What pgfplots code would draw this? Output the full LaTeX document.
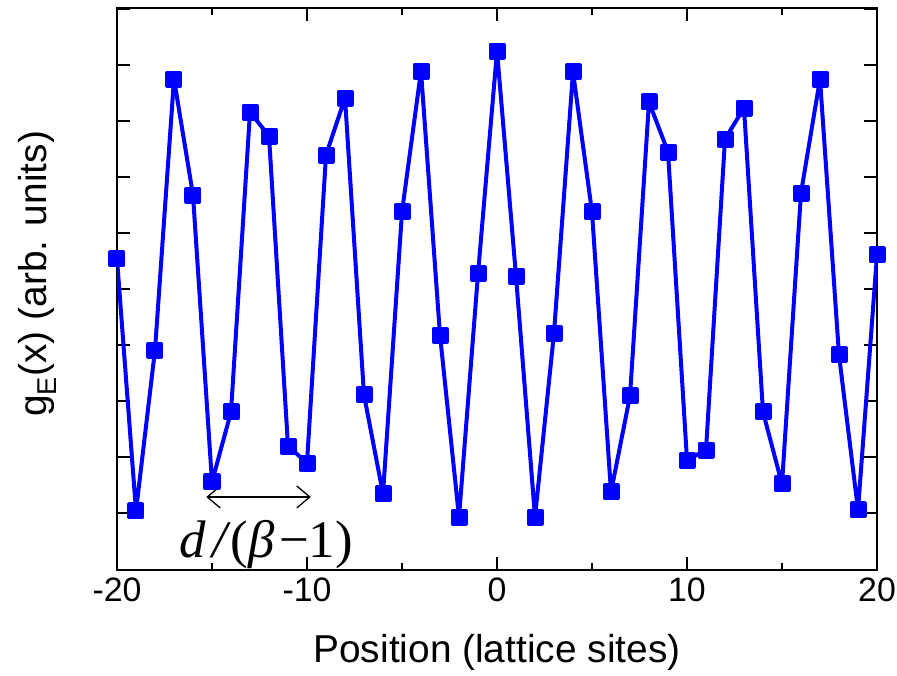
\documentclass[border=0pt]{standalone}
\usepackage{pgfplots}
\pgfplotsset{compat=1.18}
\usepackage{fontspec}
\setmainfont{Liberation Sans}
\newfontfamily\timesf{Liberation Serif}
\usetikzlibrary{arrows.meta}
\begin{document}
\begin{tikzpicture}
\begin{axis}[
  name=ax,
  scale only axis,
  width=760bp, height=562bp,
  xmin=-20, xmax=20,
  ymin=-0.5089, ymax=4.509,
  xtick={-20,-10,0,10,20},
  minor xtick={-15,-5,5,15},
  ytick={0,0.5,...,4.5},
  yticklabels={},
  tick pos=both,
  tick align=inside,
  major tick length=13bp,
  minor tick length=7bp,
  every tick/.style={black, line width=1.6bp},
  axis line style={line width=2.6bp},
  /pgf/number format/assume math mode=true,
  ticklabel style={font=\fontsize{34}{34}\selectfont},
  xticklabel style={yshift=-4bp},
  label style={font=\fontsize{39}{39}\selectfont},
  xlabel={Position (lattice sites)},
  ylabel={g\textsubscript{E}(x) (arb. units)},
  xlabel style={at={(axis description cs:0.5,-0.146)}, anchor=center},
  ylabel style={at={(axis description cs:-0.105,0.527)}, anchor=center},
]
\addplot[color={rgb,255:red,0;green,0;blue,255}, line width=4bp, line join=round, mark=square*, mark size=6.5bp,
  mark options={solid}] coordinates {
(-20,2.268) (-19,0.018) (-18,1.455) (-17,3.875) (-16,2.839) (-15,0.277) (-14,0.902)
(-13,3.580) (-12,3.366) (-11,0.598) (-10,0.446) (-9,3.196) (-8,3.705) (-7,1.054)
(-6,0.170) (-5,2.688) (-4,3.946) (-3,1.589) (-2,-0.036) (-1,2.134) (0,4.125)
(1,2.116) (2,-0.036) (3,1.607) (4,3.938) (5,2.688) (6,0.188) (7,1.045)
(8,3.670) (9,3.223) (10,0.473) (11,0.5625) (12,3.339) (13,3.616) (14,0.902)
(15,0.259) (16,2.857) (17,3.875) (18,1.411) (19,0.027) (20,2.304)
};
\draw[{Straight Barb[length=13bp,width=22bp]}-{Straight Barb[length=13bp,width=22bp]}, line width=1.3bp, black]
  (axis cs:-15.3,0.143) -- (axis cs:-9.8,0.143);
\node[anchor=base, inner sep=0pt, font=\timesf\fontsize{53}{53}\selectfont] at (axis cs:-12.15,-0.40) {\textit{d}\hspace{0.12em}\textit{/}(\textit{β}\hspace{0.08em}−1)};
\end{axis}
\pgfresetboundingbox
\path ([shift={(-117bp,-106bp)}]ax.south west) rectangle ([shift={(20bp,8bp)}]ax.north east);
\end{tikzpicture}
\end{document}
